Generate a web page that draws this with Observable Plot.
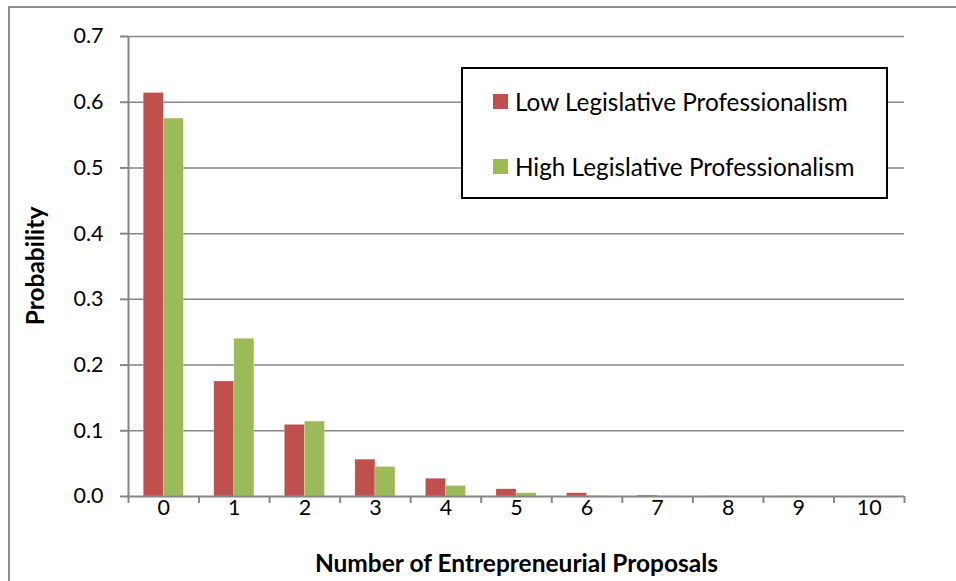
<!DOCTYPE html>
<html>
<head>
<meta charset="utf-8">
<script src="https://cdn.jsdelivr.net/npm/d3@7"></script>
<script src="https://cdn.jsdelivr.net/npm/@observablehq/plot@0.6"></script>
<style>
  html, body { margin: 0; padding: 0; background: #fff; }
  #chart { position: relative; width: 956px; height: 581px; font-family: Lato, "Open Sans", sans-serif; }
  #chart svg g[aria-label$="tick label"] { font-size: 21.5px; }
  #outline { position: absolute; left: 8px; top: 6px; right: -2px; bottom: -2px; border-left: 2px solid #8c8c8c; border-top: 2px solid #8c8c8c; pointer-events: none; }
  #ytitle { position: absolute; left: 35px; top: 266px; transform: translate(-50%, -50%) rotate(-90deg); font-size: 24.5px; font-weight: bold; white-space: nowrap; color: #000; line-height: 1; }
  #legend { position: absolute; left: 461px; top: 67px; width: 423px; height: 128px; border: 2px solid #000; background: #fff; box-sizing: content-box; }
  .entry { position: absolute; left: 30px; display: flex; align-items: center; font-size: 24.3px; color: #000; white-space: nowrap; }
  .swatch { width: 15px; height: 15px; margin-right: 7px; }
</style>
</head>
<body>
<div id="chart"><div id="outline"></div><div id="ytitle">Probability</div></div>
<script>
// Predicted count distribution of entrepreneurial proposals
const proposals = [0, 1, 2, 3, 4, 5, 6, 7, 8, 9, 10];
const lowProb  = [0.614, 0.175, 0.109, 0.056, 0.027, 0.011, 0.005, 0.0015, 0.0005, 0.0002, 0.0001];
const highProb = [0.575, 0.240, 0.114, 0.045, 0.016, 0.005, 0.0008, 0.0003, 0.0001, 0, 0];
const seriesNames = ["Low Legislative Professionalism", "High Legislative Professionalism"];
const seriesColors = ["#C0504D", "#9BBB59"];
const yTicks = [0, 0.1, 0.2, 0.3, 0.4, 0.5, 0.6, 0.7];

const barWidth = 0.284; // width of one bar in category units
const rows = proposals.flatMap((p, i) => [
  {proposals: p, series: seriesNames[0], value: lowProb[i], x1: p - barWidth, x2: p},
  {proposals: p, series: seriesNames[1], value: highProb[i], x1: p, x2: p + barWidth}
]);
const boundaries = d3.range(-0.5, 11, 1);

const plot = Plot.plot({
  width: 956,
  height: 581,
  marginLeft: 128,
  marginRight: 52,
  marginTop: 36,
  marginBottom: 85,
  style: {fontFamily: "Lato, 'Open Sans', sans-serif", background: "transparent"},
  x: {type: "linear", domain: [-0.5, 10.5]},
  y: {domain: [0, 0.7]},
  color: {domain: seriesNames, range: seriesColors},
  marks: [
    Plot.ruleY(yTicks.slice(1), {stroke: "#868686", strokeWidth: 1.5}),
    Plot.rectY(rows, {x1: "x1", x2: "x2", y1: 0, y2: "value", fill: "series", stroke: "#fff", strokeOpacity: 0.35, strokeWidth: 0.6}),
    Plot.ruleX([-0.5], {y1: 0, y2: 0.7, stroke: "#868686", strokeWidth: 2}),
    Plot.ruleY([0], {stroke: "#868686", strokeWidth: 2}),
    Plot.axisY(yTicks, {tickSize: 8, tickPadding: 17, tickFormat: d3.format(".1f"), stroke: "#868686", strokeWidth: 2, color: "#000", label: null}),
    Plot.axisX(boundaries, {tickSize: 7, tickFormat: () => "", stroke: "#868686", strokeWidth: 2, label: null}),
    Plot.axisX(proposals, {tickSize: 0, tickPadding: 3, color: "#000", label: null}),
    Plot.text(["Number of Entrepreneurial Proposals"], {frameAnchor: "bottom", dy: 75, fontSize: 24.5, fontWeight: "bold", fill: "#000"})
  ]
});
document.getElementById("chart").prepend(plot);

// Legend box
const legend = document.createElement("div");
legend.id = "legend";
seriesNames.forEach((name, i) => {
  const e = document.createElement("div");
  e.className = "entry";
  e.style.top = (i === 0 ? 18 : 83) + "px";
  e.innerHTML = `<span class="swatch" style="background:${seriesColors[i]}"></span><span>${name}</span>`;
  legend.appendChild(e);
});
document.getElementById("chart").appendChild(legend);
</script>
</body>
</html>
